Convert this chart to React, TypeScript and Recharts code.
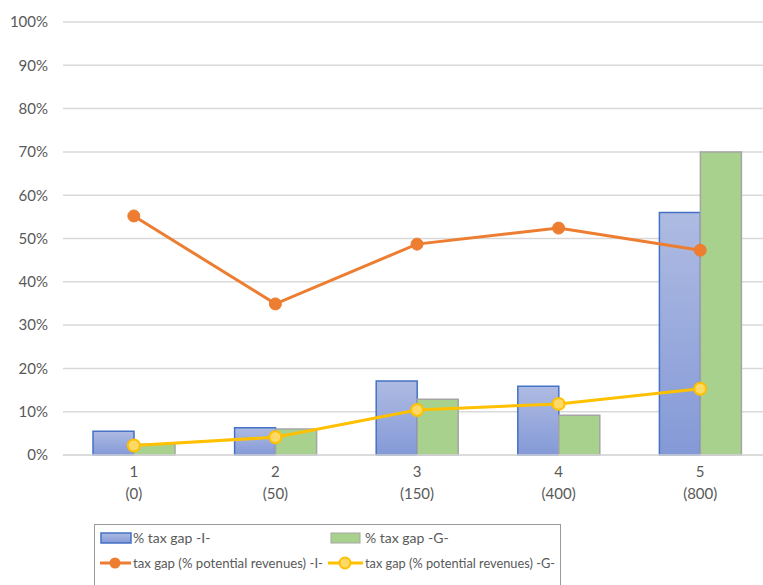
import React from 'react';
import {
  ComposedChart,
  Bar,
  Line,
  XAxis,
  YAxis,
  CartesianGrid,
  Legend,
} from 'recharts';

// categories (quintile + threshold under it)
const categories = ['1', '2', '3', '4', '5'];
const thresholds = ['(0)', '(50)', '(150)', '(400)', '(800)'];

// values in %
const taxGapI = [5.5, 6.3, 17.1, 15.9, 56.0];
const taxGapG = [2.5, 6.0, 12.9, 9.2, 70.0];
const potentialI = [55.2, 34.9, 48.7, 52.4, 47.3];
const potentialG = [2.2, 4.1, 10.4, 11.8, 15.3];

const yTicks = [0, 10, 20, 30, 40, 50, 60, 70, 80, 90, 100];

const data = categories.map((c, i) => ({
  cat: c,
  sub: thresholds[i],
  gapI: taxGapI[i],
  gapG: taxGapG[i],
  potI: potentialI[i],
  potG: potentialG[i],
}));

const FONT = 'Lato, "Open Sans", sans-serif';
const TEXT = '#595959';

const XTick = (props: any) => {
  const { x, y, index } = props;
  return (
    <g>
      <text x={x} y={y + 22} textAnchor="middle" fill={TEXT} fontSize={15} fontFamily={FONT}>
        {categories[index]}
      </text>
      <text x={x} y={y + 44} textAnchor="middle" fill={TEXT} fontSize={15} fontFamily={FONT}>
        {thresholds[index]}
      </text>
    </g>
  );
};

const legendText = { fill: TEXT, fontSize: 14, fontFamily: FONT };

// legend box is cut by the bottom of the picture, like the original
const LegendBox = () => (
  <svg width={520} height={64} style={{ display: 'block' }}>
    <rect x={0.5} y={0.5} width={466} height={70} fill="#fff" stroke="#9a9a9a" />
    {/* row 1 */}
    <rect x={7} y={9} width={30} height={10} fill="url(#blueGrad)" stroke="#4472c4" strokeWidth={1.5} />
    <text x={39} y={19} {...legendText}>% tax gap -I-</text>
    <rect x={237} y={9} width={29} height={10} fill="#a9d18e" stroke="#a5a5a5" strokeWidth={1} />
    <text x={271} y={19} {...legendText}>% tax gap -G-</text>
    {/* row 2 */}
    <line x1={6} x2={37} y1={39} y2={39} stroke="#ed7d31" strokeWidth={3} />
    <circle cx={21} cy={39} r={5.5} fill="#ed7d31" />
    <text x={39} y={44} {...legendText} textLength={190} lengthAdjust="spacingAndGlyphs">
      tax gap (% potential revenues) -I-
    </text>
    <line x1={234} x2={269} y1={39} y2={39} stroke="#ffc000" strokeWidth={3} />
    <circle cx={251} cy={39} r={5.5} fill="#ffd966" stroke="#ffc000" strokeWidth={2} />
    <text x={271} y={44} {...legendText} textLength={190} lengthAdjust="spacingAndGlyphs">
      tax gap (% potential revenues) -G-
    </text>
  </svg>
);

export default function App() {
  return (
    <div
      style={{
        position: 'absolute',
        left: 0,
        top: 0,
        width: 763,
        height: 585,
        overflow: 'hidden',
        background: '#fff',
      }}
    >
      <ComposedChart
        width={780}
        height={585}
        data={data}
        margin={{ top: 22, right: 9, bottom: 100, left: 0 }}
        barGap={0}
      >
        <defs>
          <linearGradient id="blueGrad" x1="0" y1="0" x2="0" y2="1">
            <stop offset="0%" stopColor="#aebbe2" />
            <stop offset="100%" stopColor="#8499d7" />
          </linearGradient>
        </defs>
        <CartesianGrid vertical={false} stroke="#d9d9d9" strokeWidth={1.5} />
        <XAxis
          dataKey="cat"
          height={30}
          axisLine={{ stroke: '#d9d9d9', strokeWidth: 1.5 }}
          tickLine={false}
          tickSize={0}
          tickMargin={0}
          tick={<XTick />}
          interval={0}
        />
        <YAxis
          width={63}
          domain={[0, 100]}
          ticks={yTicks}
          axisLine={false}
          tickLine={false}
          tickSize={0}
          tickMargin={15}
          tickFormatter={(v: number) => `${v}%`}
          tick={{ fill: TEXT, fontSize: 15, fontFamily: FONT }}
        />
        <Bar
          dataKey="gapI"
          barSize={41}
          fill="url(#blueGrad)"
          stroke="#4472c4"
          strokeWidth={1.5}
          isAnimationActive={false}
        />
        <Bar
          dataKey="gapG"
          barSize={41}
          fill="#a9d18e"
          stroke="#a5a5a5"
          strokeWidth={1.5}
          isAnimationActive={false}
        />
        <Line
          dataKey="potI"
          stroke="#ed7d31"
          strokeWidth={3}
          dot={{ r: 6, fill: '#ed7d31', stroke: '#ed7d31', strokeWidth: 1 }}
          activeDot={false}
          isAnimationActive={false}
        />
        <Line
          dataKey="potG"
          stroke="#ffc000"
          strokeWidth={3}
          dot={{ r: 6, fill: '#ffd966', stroke: '#ffc000', strokeWidth: 2 }}
          activeDot={false}
          isAnimationActive={false}
        />
        <Legend
          layout="horizontal"
          verticalAlign="middle"
          align="center"
          content={<LegendBox />}
          wrapperStyle={{ left: 94, top: 524, width: 520, height: 64 }}
        />
      </ComposedChart>
    </div>
  );
}
